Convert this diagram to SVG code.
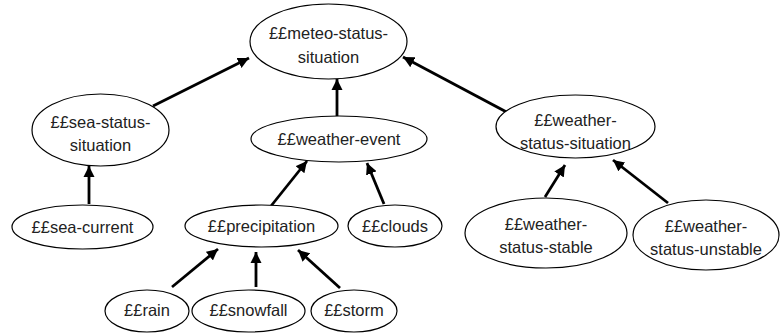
<svg xmlns="http://www.w3.org/2000/svg" width="781" height="334" viewBox="0 0 781 334">
<defs>
<marker id="ah" viewBox="0 0 10 10" refX="10" refY="5" markerWidth="4" markerHeight="4" orient="auto" markerUnits="strokeWidth">
<path d="M0,0 L10,5 L0,10 Z" fill="#000"/>
</marker>
<style>
.n ellipse{fill:#fff;stroke:#000;stroke-width:1.2}
.n text{font-family:"Liberation Sans",Arial,sans-serif;font-size:16.5px;fill:#222;text-anchor:middle}
#edges line{stroke:#000;stroke-width:2.8;marker-end:url(#ah)}
</style>
</defs>
<rect width="781" height="334" fill="#fff"/>
<g id="edges">
<line x1="153" y1="106" x2="249" y2="58"/>
<line x1="337" y1="116" x2="337" y2="79"/>
<line x1="512" y1="115" x2="403" y2="57"/>
<line x1="89" y1="204" x2="89" y2="166"/>
<line x1="271" y1="206" x2="307" y2="161"/>
<line x1="384" y1="204" x2="367" y2="163"/>
<line x1="545" y1="197" x2="565" y2="165"/>
<line x1="668" y1="203" x2="613" y2="160"/>
<line x1="172" y1="287" x2="218" y2="249"/>
<line x1="256" y1="287" x2="256" y2="252"/>
<line x1="340" y1="288" x2="298" y2="250"/>
</g>
<g id="meteo-status-situation" class="n"><ellipse cx="328.5" cy="41.5" rx="78.5" ry="37.5"/><text x="328.5" y="39">££meteo-status-</text><text x="328.5" y="63">situation</text></g>
<g id="sea-status-situation" class="n"><ellipse cx="100.5" cy="130" rx="68.5" ry="36"/><text x="100.5" y="128">££sea-status-</text><text x="100.5" y="151">situation</text></g>
<g id="weather-event" class="n"><ellipse cx="339" cy="139" rx="88" ry="23"/><text x="339" y="144.5">££weather-event</text></g>
<g id="weather-status-situation" class="n"><ellipse cx="575.5" cy="126.5" rx="79.5" ry="31.5"/><text x="575.5" y="126">££weather-</text><text x="575.5" y="149">status-situation</text></g>
<g id="sea-current" class="n"><ellipse cx="82.5" cy="227" rx="70.5" ry="22"/><text x="82.5" y="233">££sea-current</text></g>
<g id="precipitation" class="n"><ellipse cx="261.5" cy="226" rx="76.5" ry="21"/><text x="261.5" y="232">££precipitation</text></g>
<g id="clouds" class="n"><ellipse cx="395" cy="226" rx="47" ry="21"/><text x="395" y="232">££clouds</text></g>
<g id="weather-status-stable" class="n"><ellipse cx="546" cy="233" rx="81" ry="35"/><text x="546" y="230">££weather-</text><text x="546" y="253">status-stable</text></g>
<g id="weather-status-unstable" class="n"><ellipse cx="706" cy="235" rx="73" ry="35"/><text x="706" y="232">££weather-</text><text x="706" y="255">status-unstable</text></g>
<g id="rain" class="n"><ellipse cx="147" cy="311" rx="42" ry="21"/><text x="147" y="316">££rain</text></g>
<g id="snowfall" class="n"><ellipse cx="248.5" cy="311" rx="56.5" ry="21"/><text x="248.5" y="316">££snowfall</text></g>
<g id="storm" class="n"><ellipse cx="354" cy="311" rx="43" ry="21"/><text x="354" y="316">££storm</text></g>
</svg>
